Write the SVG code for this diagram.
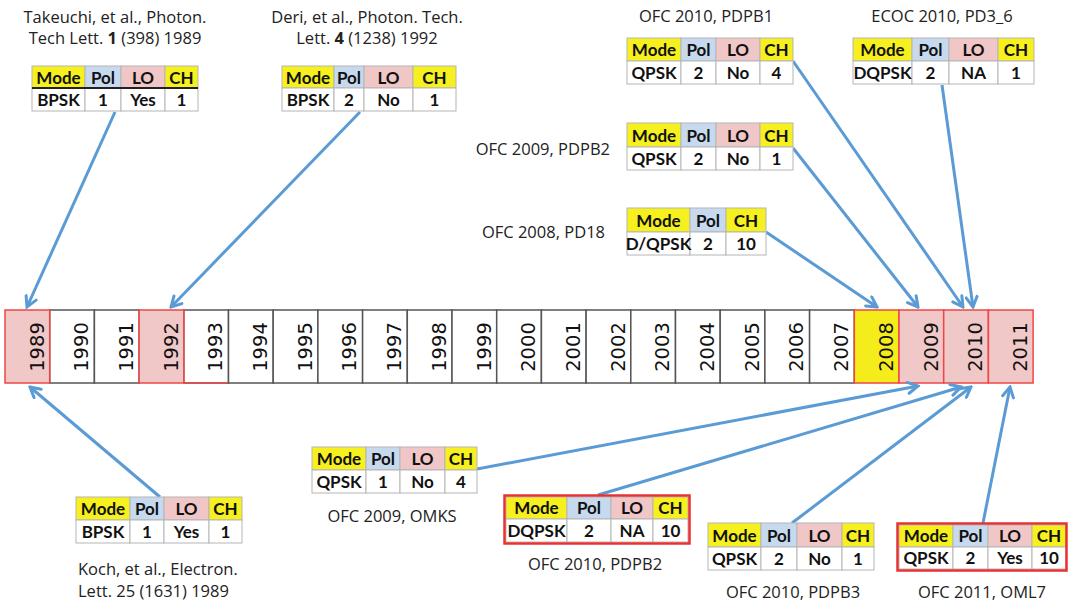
<svg xmlns="http://www.w3.org/2000/svg" width="1068" height="606" viewBox="0 0 1068 606">
<defs>
<style>
.lbl{font-family:"Open Sans","Liberation Sans",sans-serif;font-size:16.5px;fill:#222}
.tt{font-family:Lato,"Open Sans","Liberation Sans",sans-serif;font-size:17px;font-weight:bold;fill:#111;text-anchor:middle}
.yr{font-family:"DejaVu Sans",sans-serif;font-size:19.5px;fill:#111;text-anchor:middle}
.cw{fill:#fff;stroke:#555;stroke-width:1.5}
.cp{fill:#f0c8c8;stroke:#f04545;stroke-width:1.5}
.cy{fill:#f5ec1c;stroke:#f04545;stroke-width:1.5}
.hy{fill:#f5f01e;stroke:#b5b5b5;stroke-width:1}
.hb{fill:#c6d9ee;stroke:#b5b5b5;stroke-width:1}
.hp{fill:#f0c6c6;stroke:#b5b5b5;stroke-width:1}
.dw{fill:#fff;stroke:#b5b5b5;stroke-width:1}
.rf{fill:none;stroke:#e83232;stroke-width:2.5}
.cn{fill:none;stroke:#5b9bd5;stroke-width:3;marker-end:url(#ah)}
</style>
<marker id="ah" viewBox="0 0 14 14" refX="12" refY="7" markerWidth="14" markerHeight="14" markerUnits="userSpaceOnUse" orient="auto">
<path d="M2,1.5 L12,7 L2,12.5" fill="none" stroke="#5b9bd5" stroke-width="3" stroke-linecap="round"/>
</marker>
</defs>

<g id="timeline">
<g id="y1990"><rect class="cw" x="49.7" y="310" width="44.7" height="73"/><text class="yr" transform="rotate(-90 88.2 347)" x="88.2" y="347">1990</text></g>
<g id="y1991"><rect class="cw" x="94.4" y="310" width="44.7" height="73"/><text class="yr" transform="rotate(-90 132.9 347)" x="132.9" y="347">1991</text></g>
<g id="y1993"><rect class="cw" x="183.8" y="310" width="44.7" height="73"/><line x1="183.8" y1="383" x2="228.5" y2="383" stroke="#f04545" stroke-width="1.5"/><text class="yr" transform="rotate(-90 222.3 347)" x="222.3" y="347">1993</text></g>
<g id="y1994"><rect class="cw" x="228.5" y="310" width="44.7" height="73"/><text class="yr" transform="rotate(-90 267 347)" x="267" y="347">1994</text></g>
<g id="y1995"><rect class="cw" x="273.2" y="310" width="44.7" height="73"/><text class="yr" transform="rotate(-90 311.7 347)" x="311.7" y="347">1995</text></g>
<g id="y1996"><rect class="cw" x="317.9" y="310" width="44.7" height="73"/><text class="yr" transform="rotate(-90 356.4 347)" x="356.4" y="347">1996</text></g>
<g id="y1997"><rect class="cw" x="362.6" y="310" width="44.7" height="73"/><text class="yr" transform="rotate(-90 401.1 347)" x="401.1" y="347">1997</text></g>
<g id="y1998"><rect class="cw" x="407.3" y="310" width="44.7" height="73"/><text class="yr" transform="rotate(-90 445.8 347)" x="445.8" y="347">1998</text></g>
<g id="y1999"><rect class="cw" x="452" y="310" width="44.7" height="73"/><text class="yr" transform="rotate(-90 490.5 347)" x="490.5" y="347">1999</text></g>
<g id="y2000"><rect class="cw" x="496.7" y="310" width="44.7" height="73"/><text class="yr" transform="rotate(-90 535.2 347)" x="535.2" y="347">2000</text></g>
<g id="y2001"><rect class="cw" x="541.4" y="310" width="44.7" height="73"/><text class="yr" transform="rotate(-90 579.9 347)" x="579.9" y="347">2001</text></g>
<g id="y2002"><rect class="cw" x="586.1" y="310" width="44.7" height="73"/><text class="yr" transform="rotate(-90 624.6 347)" x="624.6" y="347">2002</text></g>
<g id="y2003"><rect class="cw" x="630.8" y="310" width="44.7" height="73"/><text class="yr" transform="rotate(-90 669.3 347)" x="669.3" y="347">2003</text></g>
<g id="y2004"><rect class="cw" x="675.5" y="310" width="44.7" height="73"/><text class="yr" transform="rotate(-90 714 347)" x="714" y="347">2004</text></g>
<g id="y2005"><rect class="cw" x="720.2" y="310" width="44.7" height="73"/><text class="yr" transform="rotate(-90 758.7 347)" x="758.7" y="347">2005</text></g>
<g id="y2006"><rect class="cw" x="764.9" y="310" width="44.7" height="73"/><text class="yr" transform="rotate(-90 803.4 347)" x="803.4" y="347">2006</text></g>
<g id="y2007"><rect class="cw" x="809.6" y="310" width="44.7" height="73"/><text class="yr" transform="rotate(-90 848.1 347)" x="848.1" y="347">2007</text></g>
<g id="y1989"><rect class="cp" x="5" y="310" width="44.7" height="73"/><text class="yr" transform="rotate(-90 43.5 347)" x="43.5" y="347">1989</text></g>
<g id="y1992"><rect class="cp" x="139.1" y="310" width="44.7" height="73"/><text class="yr" transform="rotate(-90 177.6 347)" x="177.6" y="347">1992</text></g>
<g id="y2008"><rect class="cy" x="854.3" y="310" width="44.7" height="73"/><text class="yr" transform="rotate(-90 892.8 347)" x="892.8" y="347">2008</text></g>
<g id="y2009"><rect class="cp" x="899" y="310" width="44.7" height="73"/><text class="yr" transform="rotate(-90 937.5 347)" x="937.5" y="347">2009</text></g>
<g id="y2010"><rect class="cp" x="943.7" y="310" width="44.7" height="73"/><text class="yr" transform="rotate(-90 982.2 347)" x="982.2" y="347">2010</text></g>
<g id="y2011"><rect class="cp" x="988.4" y="310" width="44.7" height="73"/><text class="yr" transform="rotate(-90 1026.9 347)" x="1026.9" y="347">2011</text></g>
</g>

<g id="connectors">
<line class="cn" x1="115" y1="112" x2="27" y2="307"/>
<line class="cn" x1="360" y1="112" x2="171" y2="307"/>
<line class="cn" x1="793" y1="61" x2="963" y2="307"/>
<line class="cn" x1="942" y1="85" x2="973" y2="307"/>
<line class="cn" x1="793" y1="148" x2="918" y2="307"/>
<line class="cn" x1="766" y1="232" x2="877" y2="307"/>
<line class="cn" x1="160" y1="497" x2="30" y2="387"/>
<line class="cn" x1="477" y1="469" x2="918" y2="386"/>
<line class="cn" x1="598" y1="495" x2="961" y2="387"/>
<line class="cn" x1="792" y1="523" x2="971" y2="387"/>
<line class="cn" x1="983" y1="523" x2="1010" y2="387"/>
</g>

<g id="takeuchi">
<text class="lbl" x="115" y="23" text-anchor="middle">Takeuchi, et al., Photon.</text>
<text class="lbl" x="115" y="44" text-anchor="middle">Tech Lett. <tspan font-weight="bold">1</tspan> (398) 1989</text>
<rect class="hy" x="32" y="66" width="53" height="22"/><rect class="hb" x="85" y="66" width="36" height="22"/><rect class="hp" x="121" y="66" width="44" height="22"/><rect class="hy" x="165" y="66" width="33" height="22"/>
<rect class="dw" x="32" y="88" width="53" height="23"/><rect class="dw" x="85" y="88" width="36" height="23"/><rect class="dw" x="121" y="88" width="44" height="23"/><rect class="dw" x="165" y="88" width="33" height="23"/>
<line x1="32" y1="88" x2="198" y2="88" stroke="#222" stroke-width="1.8"/>
<text class="tt" x="58.5" y="84">Mode</text><text class="tt" x="103" y="84">Pol</text><text class="tt" x="143" y="84">LO</text><text class="tt" x="181.5" y="84">CH</text>
<text class="tt" x="58.5" y="106">BPSK</text><text class="tt" x="103" y="106">1</text><text class="tt" x="143" y="106">Yes</text><text class="tt" x="181.5" y="106">1</text>
</g>

<g id="deri">
<text class="lbl" x="367" y="23" text-anchor="middle">Deri, et al., Photon. Tech.</text>
<text class="lbl" x="367" y="44" text-anchor="middle">Lett. <tspan font-weight="bold">4</tspan> (1238) 1992</text>
<rect class="hy" x="282" y="66" width="52" height="22"/><rect class="hb" x="334" y="66" width="30" height="22"/><rect class="hp" x="364" y="66" width="49" height="22"/><rect class="hy" x="413" y="66" width="43" height="22"/>
<rect class="dw" x="282" y="88" width="52" height="23"/><rect class="dw" x="334" y="88" width="30" height="23"/><rect class="dw" x="364" y="88" width="49" height="23"/><rect class="dw" x="413" y="88" width="43" height="23"/>
<text class="tt" x="308" y="84">Mode</text><text class="tt" x="349" y="84">Pol</text><text class="tt" x="388.5" y="84">LO</text><text class="tt" x="434.5" y="84">CH</text>
<text class="tt" x="308" y="106">BPSK</text><text class="tt" x="349" y="106">2</text><text class="tt" x="388.5" y="106">No</text><text class="tt" x="434.5" y="106">1</text>
</g>

<g id="ofc2010-pdpb1">
<text class="lbl" x="706" y="22" text-anchor="middle">OFC 2010, PDPB1</text>
<rect class="hy" x="627" y="38" width="54" height="23"/><rect class="hb" x="681" y="38" width="35" height="23"/><rect class="hp" x="716" y="38" width="44" height="23"/><rect class="hy" x="760" y="38" width="33" height="23"/>
<rect class="dw" x="627" y="61" width="54" height="23"/><rect class="dw" x="681" y="61" width="35" height="23"/><rect class="dw" x="716" y="61" width="44" height="23"/><rect class="dw" x="760" y="61" width="33" height="23"/>
<text class="tt" x="654" y="56">Mode</text><text class="tt" x="698.5" y="56">Pol</text><text class="tt" x="738" y="56">LO</text><text class="tt" x="776.5" y="56">CH</text>
<text class="tt" x="654" y="79">QPSK</text><text class="tt" x="698.5" y="79">2</text><text class="tt" x="738" y="79">No</text><text class="tt" x="776.5" y="79">4</text>
</g>

<g id="ecoc2010">
<text class="lbl" x="942" y="22" text-anchor="middle">ECOC 2010, PD3_6</text>
<rect class="hy" x="853" y="38" width="59" height="23"/><rect class="hb" x="912" y="38" width="37" height="23"/><rect class="hp" x="949" y="38" width="49" height="23"/><rect class="hy" x="998" y="38" width="36" height="23"/>
<rect class="dw" x="853" y="61" width="59" height="23"/><rect class="dw" x="912" y="61" width="37" height="23"/><rect class="dw" x="949" y="61" width="49" height="23"/><rect class="dw" x="998" y="61" width="36" height="23"/>
<text class="tt" x="882.5" y="56">Mode</text><text class="tt" x="930.5" y="56">Pol</text><text class="tt" x="973.5" y="56">LO</text><text class="tt" x="1016" y="56">CH</text>
<text class="tt" x="882.5" y="79">DQPSK</text><text class="tt" x="930.5" y="79">2</text><text class="tt" x="973.5" y="79">NA</text><text class="tt" x="1016" y="79">1</text>
</g>

<g id="ofc2009-pdpb2">
<text class="lbl" x="610" y="155" text-anchor="end">OFC 2009, PDPB2</text>
<rect class="hy" x="627" y="123" width="54" height="24"/><rect class="hb" x="681" y="123" width="35" height="24"/><rect class="hp" x="716" y="123" width="44" height="24"/><rect class="hy" x="760" y="123" width="33" height="24"/>
<rect class="dw" x="627" y="147" width="54" height="23"/><rect class="dw" x="681" y="147" width="35" height="23"/><rect class="dw" x="716" y="147" width="44" height="23"/><rect class="dw" x="760" y="147" width="33" height="23"/>
<text class="tt" x="654" y="142">Mode</text><text class="tt" x="698.5" y="142">Pol</text><text class="tt" x="738" y="142">LO</text><text class="tt" x="776.5" y="142">CH</text>
<text class="tt" x="654" y="165">QPSK</text><text class="tt" x="698.5" y="165">2</text><text class="tt" x="738" y="165">No</text><text class="tt" x="776.5" y="165">1</text>
</g>

<g id="ofc2008-pd18">
<text class="lbl" x="605" y="238" text-anchor="end">OFC 2008, PD18</text>
<rect class="hy" x="627" y="208" width="63" height="24"/><rect class="hb" x="690" y="208" width="36" height="24"/><rect class="hy" x="726" y="208" width="40" height="24"/>
<rect class="dw" x="627" y="232" width="63" height="23"/><rect class="dw" x="690" y="232" width="36" height="23"/><rect class="dw" x="726" y="232" width="40" height="23"/>
<text class="tt" x="658.5" y="227">Mode</text><text class="tt" x="708" y="227">Pol</text><text class="tt" x="746" y="227">CH</text>
<text class="tt" x="658.5" y="250">D/QPSK</text><text class="tt" x="708" y="250">2</text><text class="tt" x="746" y="250">10</text>
</g>

<g id="koch">
<rect class="hy" x="76" y="497" width="54" height="23"/><rect class="hb" x="130" y="497" width="34" height="23"/><rect class="hp" x="164" y="497" width="45" height="23"/><rect class="hy" x="209" y="497" width="33" height="23"/>
<rect class="dw" x="76" y="520" width="54" height="23"/><rect class="dw" x="130" y="520" width="34" height="23"/><rect class="dw" x="164" y="520" width="45" height="23"/><rect class="dw" x="209" y="520" width="33" height="23"/>
<text class="tt" x="103" y="515">Mode</text><text class="tt" x="147" y="515">Pol</text><text class="tt" x="186.5" y="515">LO</text><text class="tt" x="225.5" y="515">CH</text>
<text class="tt" x="103" y="538">BPSK</text><text class="tt" x="147" y="538">1</text><text class="tt" x="186.5" y="538">Yes</text><text class="tt" x="225.5" y="538">1</text>
<text class="lbl" x="78" y="575">Koch, et al., Electron.</text>
<text class="lbl" x="78" y="597">Lett. 25 (1631) 1989</text>
</g>

<g id="ofc2009-omks">
<rect class="hy" x="312" y="447" width="54" height="23"/><rect class="hb" x="366" y="447" width="34" height="23"/><rect class="hp" x="400" y="447" width="45" height="23"/><rect class="hy" x="445" y="447" width="32" height="23"/>
<rect class="dw" x="312" y="470" width="54" height="23"/><rect class="dw" x="366" y="470" width="34" height="23"/><rect class="dw" x="400" y="470" width="45" height="23"/><rect class="dw" x="445" y="470" width="32" height="23"/>
<text class="tt" x="339" y="465">Mode</text><text class="tt" x="383" y="465">Pol</text><text class="tt" x="422.5" y="465">LO</text><text class="tt" x="461" y="465">CH</text>
<text class="tt" x="339" y="488">QPSK</text><text class="tt" x="383" y="488">1</text><text class="tt" x="422.5" y="488">No</text><text class="tt" x="461" y="488">4</text>
<text class="lbl" x="392" y="522" text-anchor="middle">OFC 2009, OMKS</text>
</g>

<g id="ofc2010-pdpb2">
<rect class="hy" x="506" y="497" width="61" height="22"/><rect class="hb" x="567" y="497" width="44" height="22"/><rect class="hp" x="611" y="497" width="42" height="22"/><rect class="hy" x="653" y="497" width="35" height="22"/>
<rect class="dw" x="506" y="519" width="61" height="23"/><rect class="dw" x="567" y="519" width="44" height="23"/><rect class="dw" x="611" y="519" width="42" height="23"/><rect class="dw" x="653" y="519" width="35" height="23"/>
<rect class="rf" x="504.5" y="495.5" width="185" height="48"/>
<text class="tt" x="536.5" y="514">Mode</text><text class="tt" x="589" y="514">Pol</text><text class="tt" x="632" y="514">LO</text><text class="tt" x="670.5" y="514">CH</text>
<text class="tt" x="536.5" y="537">DQPSK</text><text class="tt" x="589" y="537">2</text><text class="tt" x="632" y="537">NA</text><text class="tt" x="670.5" y="537">10</text>
<text class="lbl" x="595" y="570" text-anchor="middle">OFC 2010, PDPB2</text>
</g>

<g id="ofc2010-pdpb3">
<rect class="hy" x="708" y="523" width="53" height="24"/><rect class="hb" x="761" y="523" width="36" height="24"/><rect class="hp" x="797" y="523" width="45" height="24"/><rect class="hy" x="842" y="523" width="32" height="24"/>
<rect class="dw" x="708" y="547" width="53" height="23"/><rect class="dw" x="761" y="547" width="36" height="23"/><rect class="dw" x="797" y="547" width="45" height="23"/><rect class="dw" x="842" y="547" width="32" height="23"/>
<text class="tt" x="734.5" y="542">Mode</text><text class="tt" x="779" y="542">Pol</text><text class="tt" x="819.5" y="542">LO</text><text class="tt" x="858" y="542">CH</text>
<text class="tt" x="734.5" y="565">QPSK</text><text class="tt" x="779" y="565">2</text><text class="tt" x="819.5" y="565">No</text><text class="tt" x="858" y="565">1</text>
<text class="lbl" x="793" y="598" text-anchor="middle">OFC 2010, PDPB3</text>
</g>

<g id="ofc2011-oml7">
<rect class="hy" x="899" y="525" width="54" height="22"/><rect class="hb" x="953" y="525" width="35" height="22"/><rect class="hp" x="988" y="525" width="44" height="22"/><rect class="hy" x="1032" y="525" width="34" height="22"/>
<rect class="dw" x="899" y="547" width="54" height="22"/><rect class="dw" x="953" y="547" width="35" height="22"/><rect class="dw" x="988" y="547" width="44" height="22"/><rect class="dw" x="1032" y="547" width="34" height="22"/>
<rect class="rf" x="897.5" y="523.5" width="169" height="47"/>
<text class="tt" x="926" y="542">Mode</text><text class="tt" x="970.5" y="542">Pol</text><text class="tt" x="1010" y="542">LO</text><text class="tt" x="1049" y="542">CH</text>
<text class="tt" x="926" y="564">QPSK</text><text class="tt" x="970.5" y="564">2</text><text class="tt" x="1010" y="564">Yes</text><text class="tt" x="1049" y="564">10</text>
<text class="lbl" x="982" y="598" text-anchor="middle">OFC 2011, OML7</text>
</g>
</svg>
